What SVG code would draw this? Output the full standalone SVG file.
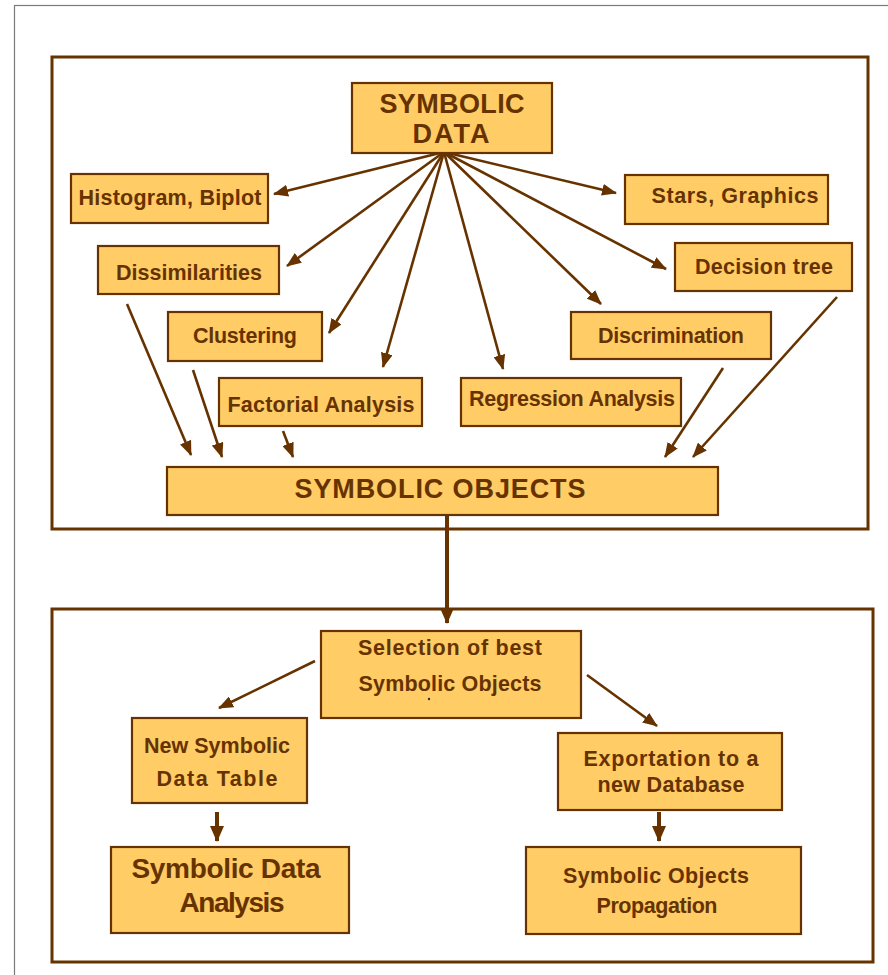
<svg xmlns="http://www.w3.org/2000/svg" width="888" height="975" viewBox="0 0 888 975">
<style>
.frame{fill:none;stroke:#663300;stroke-width:3}
.box{fill:#FFCC66;stroke:#663300;stroke-width:2.2}
.t{font-family:"Liberation Sans",Arial,sans-serif;font-weight:bold;fill:#663300;text-anchor:middle}
.s{font-size:21.5px}
.b{font-size:27px}
.c{stroke:#663300;stroke-width:2.6;fill:none;marker-end:url(#ah)}
.ct{stroke:#663300;stroke-width:4;fill:none;marker-end:url(#ahb)}
</style>
<defs>
<marker id="ah" markerUnits="userSpaceOnUse" markerWidth="15" markerHeight="12" refX="14" refY="6" orient="auto">
<path d="M0,0 L15,6 L0,12 z" fill="#663300"/>
</marker>
<marker id="ahb" markerUnits="userSpaceOnUse" markerWidth="16" markerHeight="14" refX="15" refY="7" orient="auto">
<path d="M0,0 L16,7 L0,14 z" fill="#663300"/>
</marker>
</defs>
<rect x="0" y="0" width="888" height="975" fill="#ffffff"/>
<rect x="14.5" y="5.5" width="900" height="1000" fill="none" stroke="#7a7a7a" stroke-width="1.2"/>
<g id="frames">
<rect class="frame" x="52" y="57" width="816" height="472"/>
<rect class="frame" x="52" y="609" width="821" height="353"/>
</g>
<g id="connectors">
<line class="c" x1="444" y1="152" x2="274" y2="194"/>
<line class="c" x1="444" y1="152" x2="287" y2="266"/>
<line class="c" x1="444" y1="152" x2="329" y2="333"/>
<line class="c" x1="444" y1="152" x2="383" y2="367"/>
<line class="c" x1="444" y1="152" x2="503" y2="369"/>
<line class="c" x1="444" y1="152" x2="601" y2="304"/>
<line class="c" x1="444" y1="152" x2="666" y2="269"/>
<line class="c" x1="444" y1="152" x2="616" y2="193"/>
<line class="c" x1="127" y1="304" x2="191" y2="455"/>
<line class="c" x1="193" y1="370" x2="222" y2="457"/>
<line class="c" x1="283" y1="431" x2="293" y2="457"/>
<line class="c" x1="723" y1="368" x2="665" y2="457"/>
<line class="c" x1="837" y1="297" x2="693" y2="457"/>
<line class="ct" x1="447" y1="516" x2="447" y2="623"/>
<line class="c" x1="315" y1="661" x2="219" y2="708"/>
<line class="c" x1="587" y1="675" x2="657" y2="726"/>
<line class="ct" x1="217" y1="812" x2="217" y2="841"/>
<line class="ct" x1="659" y1="812" x2="659" y2="841"/>
</g>
<g id="symbolic-data">
<rect class="box" x="352" y="83" width="200" height="70"/>
<text class="t b" x="452" y="113" textLength="145" lengthAdjust="spacing">SYMBOLIC</text>
<text class="t b" x="451" y="143" textLength="77" lengthAdjust="spacing">DATA</text>
</g>
<g id="histogram">
<rect class="box" x="71" y="174" width="197" height="49"/>
<text class="t s" x="170" y="205" textLength="183" lengthAdjust="spacing">Histogram, Biplot</text>
</g>
<g id="dissimilarities">
<rect class="box" x="98" y="246" width="181" height="48"/>
<text class="t s" x="189" y="280" textLength="146" lengthAdjust="spacing">Dissimilarities</text>
</g>
<g id="clustering">
<rect class="box" x="168" y="312" width="154" height="49"/>
<text class="t s" x="245" y="343" textLength="104" lengthAdjust="spacing">Clustering</text>
</g>
<g id="factorial">
<rect class="box" x="219" y="378" width="203" height="48"/>
<text class="t s" x="321" y="412" textLength="187" lengthAdjust="spacing">Factorial Analysis</text>
</g>
<g id="regression">
<rect class="box" x="461" y="378" width="220" height="48"/>
<text class="t s" x="572" y="406" textLength="206" lengthAdjust="spacing">Regression Analysis</text>
</g>
<g id="discrimination">
<rect class="box" x="571" y="312" width="200" height="47"/>
<text class="t s" x="671" y="343" textLength="146" lengthAdjust="spacing">Discrimination</text>
</g>
<g id="decision-tree">
<rect class="box" x="675" y="243" width="177" height="48"/>
<text class="t s" x="764" y="274" textLength="138" lengthAdjust="spacing">Decision tree</text>
</g>
<g id="stars">
<rect class="box" x="625" y="175" width="203" height="49"/>
<text class="t s" x="735" y="203" textLength="167" lengthAdjust="spacing">Stars, Graphics</text>
</g>
<g id="symbolic-objects">
<rect class="box" x="167" y="467" width="551" height="48"/>
<text class="t b" x="440" y="498" textLength="291" lengthAdjust="spacing">SYMBOLIC OBJECTS</text>
</g>
<g id="selection">
<rect class="box" x="321" y="631" width="260" height="87"/>
<text class="t s" x="450" y="655" textLength="184" lengthAdjust="spacing">Selection of best</text>
<text class="t s" x="450" y="691" textLength="183" lengthAdjust="spacing">Symbolic Objects</text>
<circle cx="429" cy="699" r="1.2" fill="#333"/>
</g>
<g id="new-table">
<rect class="box" x="132" y="718" width="175" height="85"/>
<text class="t s" x="217" y="753" textLength="146" lengthAdjust="spacing">New Symbolic</text>
<text class="t s" x="217" y="786" textLength="121" lengthAdjust="spacing">Data Table</text>
</g>
<g id="sda">
<rect class="box" x="111" y="847" width="238" height="86"/>
<text class="t" style="font-size:28px" x="226" y="878" textLength="189" lengthAdjust="spacing">Symbolic Data</text>
<text class="t" style="font-size:28px" x="232" y="912" textLength="105" lengthAdjust="spacing">Analysis</text>
</g>
<g id="exportation">
<rect class="box" x="558" y="733" width="224" height="77"/>
<text class="t s" x="671" y="766" textLength="175" lengthAdjust="spacing">Exportation to a</text>
<text class="t s" x="671" y="792" textLength="147" lengthAdjust="spacing">new Database</text>
</g>
<g id="propagation">
<rect class="box" x="526" y="847" width="275" height="87"/>
<text class="t s" x="656" y="883" textLength="186" lengthAdjust="spacing">Symbolic Objects</text>
<text class="t s" x="657" y="913" textLength="121" lengthAdjust="spacing">Propagation</text>
</g>
</svg>
